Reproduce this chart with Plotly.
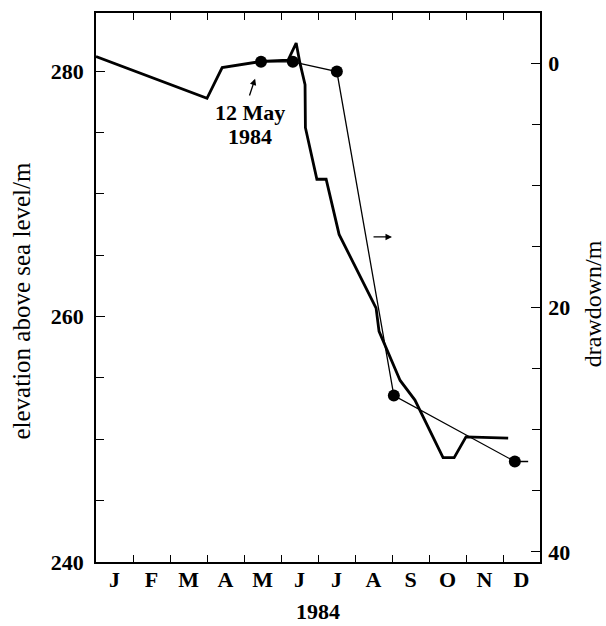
import plotly.graph_objects as go

# ---- data ----
month_labels = ["J", "F", "M", "A", "M", "J", "J", "A", "S", "O", "N", "D"]
month_centres = [i + 0.5 for i in range(12)]
month_bounds = list(range(1, 12))

# elevation of water level (m above sea level), thick line, left axis; time in months from 1 Jan 1984
elev_time = [0.0, 3.0, 3.41, 4.46, 5.19, 5.41, 5.51, 5.65, 5.66, 5.97, 6.22, 6.57,
             7.57, 7.65, 8.22, 8.62, 9.38, 9.68, 10.0, 11.14]
elev_m = [281.2, 277.8, 280.3, 280.8, 280.9, 282.3, 280.7, 278.9, 275.4, 271.2, 271.2, 266.7,
          260.7, 258.8, 254.8, 253.2, 248.5, 248.5, 250.2, 250.1]

# drawdown (m), thin line with dots, right axis
draw_time = [4.46, 5.32, 6.51, 8.05, 11.32, 11.68]
draw_m = [-0.1, -0.1, 0.7, 27.2, 32.6, 32.6]
draw_dot = [12, 12, 12, 12, 12, 0]

SERIF = "Liberation Serif"

fig = go.Figure()
fig.add_trace(go.Scatter(x=elev_time, y=elev_m, mode="lines",
                         line=dict(color="black", width=2.8), showlegend=False,
                         hoverinfo="skip"))
fig.add_trace(go.Scatter(x=draw_time, y=draw_m, mode="lines+markers", yaxis="y2",
                         line=dict(color="black", width=1.3),
                         marker=dict(color="black", size=draw_dot, opacity=1,
                                     line=dict(width=0, color="black")),
                         opacity=1, showlegend=False, hoverinfo="skip"))
# invisible trace to activate xaxis2 (month labels)
fig.add_trace(go.Scatter(x=[0, 12], y=[None, None], xaxis="x2", showlegend=False,
                         hoverinfo="skip"))

tickfont = dict(family=SERIF, size=22, color="black", weight="bold")

fig.update_layout(
    template="none",
    width=606, height=626,
    margin=dict(l=96, r=66, t=13, b=64, pad=0),
    paper_bgcolor="white", plot_bgcolor="white",
    xaxis=dict(range=[0, 12], tickvals=month_bounds, showticklabels=False,
               ticks="inside", ticklen=7, tickwidth=1.2, tickcolor="black",
               showline=True, linecolor="black", linewidth=1.6, mirror="ticks",
               showgrid=False, zeroline=False, automargin=False),
    xaxis2=dict(range=[0, 12], overlaying="x", side="bottom", tickvals=month_centres,
                ticktext=month_labels, ticks="", showline=False, showgrid=False,
                zeroline=False, tickfont=tickfont, ticklabelstandoff=2, automargin=False),
    yaxis=dict(range=[240, 284.75], tickvals=[240, 260, 280], ticks="inside", ticklen=9,
               tickwidth=1.2, tickcolor="black",
               minor=dict(dtick=5, tick0=240, ticks="inside", ticklen=8, tickwidth=1.2,
                          tickcolor="black", showgrid=False),
               showline=True, linecolor="black", linewidth=1.6, showgrid=False,
               zeroline=False, tickfont=tickfont, ticklabelstandoff=6, automargin=False),
    yaxis2=dict(range=[40.82, -4.09], overlaying="y", side="right", tickvals=[0, 20, 40],
                ticks="inside", ticklen=9, tickwidth=1.2, tickcolor="black",
                minor=dict(dtick=5, tick0=0, ticks="inside", ticklen=8, tickwidth=1.2,
                           tickcolor="black", showgrid=False),
                showline=True, linecolor="black", linewidth=1.6, showgrid=False,
                zeroline=False, tickfont=tickfont, ticklabelstandoff=2, automargin=False),
    annotations=[
        dict(text="elevation above sea level/m", xref="paper", yref="paper",
             x=-0.168, y=0.477, xanchor="center", yanchor="middle", textangle=-90,
             showarrow=False, font=dict(family=SERIF, size=25, color="black")),
        dict(text="drawdown/m", xref="paper", yref="paper",
             x=1.120, y=0.470, xanchor="center", yanchor="middle", textangle=-90,
             showarrow=False, font=dict(family=SERIF, size=24, color="black")),
        dict(text="<b>1984</b>", xref="paper", yref="paper", x=0.5, y=-0.091,
             xanchor="center", yanchor="middle", showarrow=False,
             font=dict(family=SERIF, size=22, color="black")),
        dict(text="<b>12 May</b>", xref="x", yref="y", x=4.16, y=276.6,
             xanchor="center", yanchor="middle", showarrow=False,
             font=dict(family=SERIF, size=22, color="black")),
        dict(text="<b>1984</b>", xref="x", yref="y", x=4.17, y=274.7,
             xanchor="center", yanchor="middle", showarrow=False,
             font=dict(family=SERIF, size=22, color="black")),
        dict(text="", xref="x", yref="y", x=4.30, y=279.4, axref="x", ayref="y",
             ax=4.135, ay=277.9, showarrow=True, arrowhead=2, arrowsize=1,
             arrowwidth=1.3, arrowcolor="black"),
        dict(text="", xref="x", yref="y", x=8.0, y=266.5, axref="x", ayref="y",
             ax=7.46, ay=266.5, showarrow=True, arrowhead=2, arrowsize=1,
             arrowwidth=1.3, arrowcolor="black"),
    ],
)

fig.write_html("out.html", config={"displayModeBar": False},
               post_script="document.body.style.margin='0px';document.body.style.overflow='hidden';")
